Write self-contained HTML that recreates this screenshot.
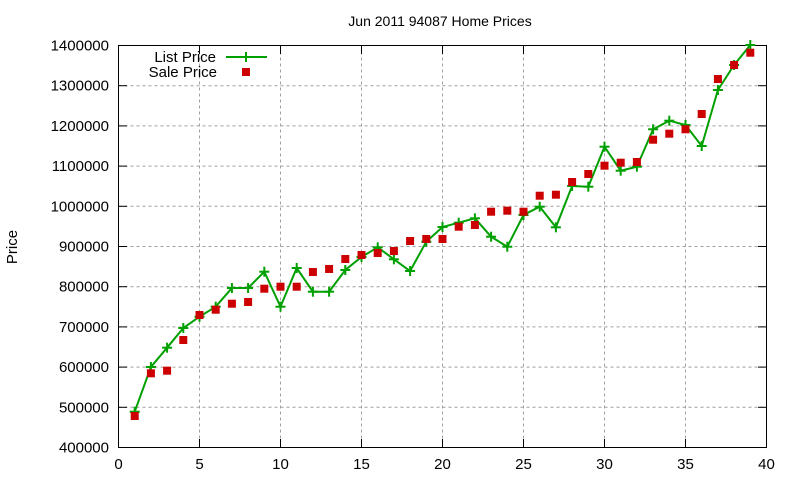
<!DOCTYPE html>
<html><head><meta charset="utf-8"><style>
html,body{margin:0;padding:0;background:#fff;}
svg{display:block;font-family:"Liberation Sans",sans-serif;}
</style></head><body>
<svg width="800" height="480" viewBox="0 0 800 480" xmlns="http://www.w3.org/2000/svg">
<rect width="800" height="480" fill="#fff"/>
<text x="440" y="26" font-size="14" text-anchor="middle">Jun 2011 94087 Home Prices</text>
<text transform="translate(17,247) rotate(-90)" font-size="15" text-anchor="middle">Price</text>
<g id="grid" stroke="#a0a0a0" stroke-width="1" stroke-dasharray="3,3"></g>
<g id="ticks" stroke="#000" stroke-width="1"></g>
<g id="labels" font-size="15" fill="#000"></g>
<rect x="118.5" y="45.5" width="648" height="402" fill="none" stroke="#000" stroke-width="1"/>
<polyline id="list" fill="none" stroke="#00a000" stroke-width="2"/>
<g id="pluses" stroke="#00a000" stroke-width="2"></g>
<g id="squares" fill="#cc0000"></g>
<text x="216" y="62" font-size="15" text-anchor="end">List Price</text>
<text x="217" y="77" font-size="15" text-anchor="end">Sale Price</text>
<line x1="226" y1="57" x2="267" y2="57" stroke="#00a000" stroke-width="2"/>
<line x1="246" y1="52" x2="246" y2="62" stroke="#00a000" stroke-width="2"/>
<rect x="242" y="68" width="8" height="8" fill="#cc0000"/>
<script>
var NS="http://www.w3.org/2000/svg";
function el(t,a,p){var e=document.createElementNS(NS,t);for(var k in a)e.setAttribute(k,a[k]);document.getElementById(p).appendChild(e);return e;}
var X=function(i){return 118.5+16.2*i;};
for(var k=0;k<=10;k++){var y=45.5+k*40.2;
 if(k>0&&k<10)el("line",{x1:118.5,y1:y,x2:766.5,y2:y},"grid");
 el("line",{x1:118.5,y1:y,x2:127,y2:y},"ticks");el("line",{x1:766.5,y1:y,x2:758,y2:y},"ticks");
 var t=el("text",{x:109,y:y+5,"text-anchor":"end"},"labels");t.textContent=(1400000-k*100000);}
for(var k=0;k<=8;k++){var x=118.5+k*81;
 if(k>0&&k<8)el("line",{x1:x,y1:45.5,x2:x,y2:447.5},"grid");
 el("line",{x1:x,y1:447.5,x2:x,y2:439},"ticks");el("line",{x1:x,y1:45.5,x2:x,y2:54},"ticks");
 var t=el("text",{x:x,y:469,"text-anchor":"middle"},"labels");t.textContent=k*5;}
var L=[411.7,367,347.7,328,316.7,306.7,288,288,271.7,306.7,268,291.7,291.7,270,257,247.3,259.3,271,241.7,227,222.7,218.3,236.7,246.7,215,206.7,227.3,186,186.7,146.7,170.7,166.7,129.3,120.7,125,146,90,65,45];
var S=[416,373.3,370.7,340,315,309.7,303.7,302,288.7,286.7,286.7,272,269,259,255,253,251,241,239,239,226.7,225,211.7,210.7,211.7,195.7,194.7,182,174,165.7,162.7,162,139.7,133.7,129.3,114,79,65,52.7];
var pts=[];
L.forEach(function(y,i){var x=X(i+1);pts.push(x+","+y);
 el("line",{x1:x-5,y1:y,x2:x+5,y2:y},"pluses");el("line",{x1:x,y1:y-5,x2:x,y2:y+5},"pluses");});
document.getElementById("list").setAttribute("points",pts.join(" "));
S.forEach(function(y,i){var x=X(i+1);el("rect",{x:x-4,y:y-4,width:8,height:8},"squares");});
</script>
</svg>
</body></html>
